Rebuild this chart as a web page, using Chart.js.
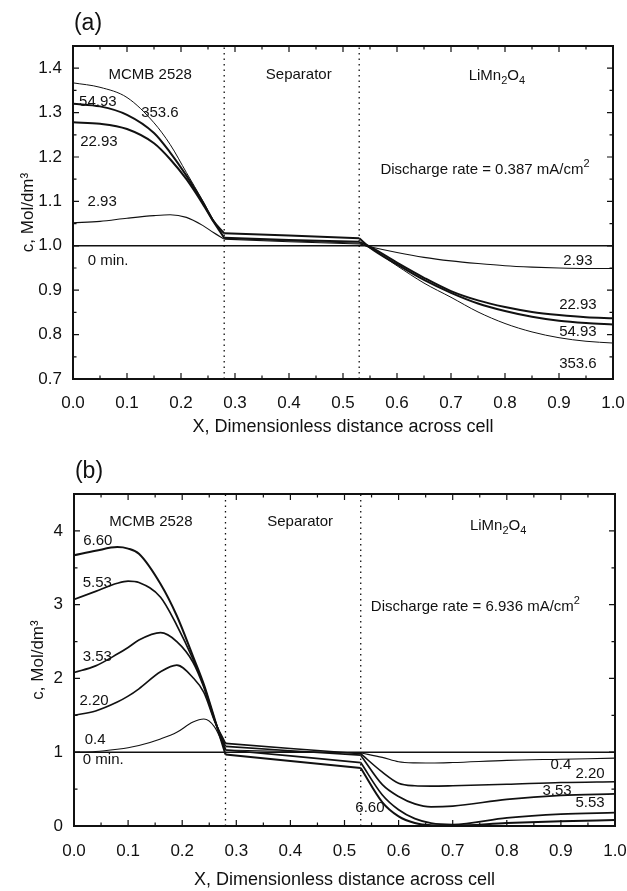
<!DOCTYPE html>
<html>
<head>
<meta charset="utf-8">
<script src="https://cdn.jsdelivr.net/npm/chart.js@4.4.1/dist/chart.umd.min.js"></script>
<style>
  html, body { margin: 0; padding: 0; background: #fff; }
  canvas { display: block; }
</style>
</head>
<body>
<canvas id="chartA" width="627" height="445"></canvas>
<canvas id="chartB" width="627" height="446"></canvas>
<script>
const FONT = "'Liberation Sans', Arial, Helvetica, sans-serif";
const INK = '#111';

// electrode / separator interfaces
const interfaces = [0.28, 0.53];

// ---- (a) discharge rate 0.387 mA/cm2 ----
const xA = [0, 0.05, 0.1, 0.15, 0.18, 0.21, 0.24, 0.26, 0.28, 0.4, 0.53, 0.55, 0.6, 0.65, 0.7, 0.75, 0.8, 0.85, 0.9, 0.95, 1.0];
const cA_2_93  = [1.052, 1.055, 1.062, 1.068, 1.070, 1.064, 1.046, 1.030, 1.015, 1.009, 1.004, 0.998, 0.985, 0.974, 0.966, 0.960, 0.955, 0.952, 0.950, 0.949, 0.949];
const cA_22_93 = [1.278, 1.275, 1.263, 1.231, 1.195, 1.150, 1.095, 1.055, 1.018, 1.013, 1.009, 0.998, 0.962, 0.928, 0.898, 0.877, 0.862, 0.851, 0.844, 0.839, 0.837];
const cA_54_93 = [1.320, 1.314, 1.295, 1.254, 1.210, 1.158, 1.099, 1.056, 1.028, 1.023, 1.017, 0.996, 0.958, 0.923, 0.894, 0.870, 0.853, 0.840, 0.831, 0.826, 0.823];
const cA_353_6 = [1.367, 1.357, 1.334, 1.277, 1.228, 1.165, 1.102, 1.058, 1.017, 1.011, 1.006, 0.995, 0.955, 0.916, 0.884, 0.851, 0.825, 0.806, 0.793, 0.785, 0.781];
const xInit = [0, 1];
const cInit = [1.0, 1.0];

const notesA = [
  ['MCMB 2528', 0.143, 1.385, 15],
  ['Separator', 0.418, 1.385, 15],
  ['LiMn_2O_4', 0.785, 1.382, 15],
  ['Discharge rate = 0.387 mA/cm^2', 0.763, 1.171, 15],
  ['54.93', 0.046, 1.324, 15],
  ['353.6', 0.161, 1.300, 15],
  ['22.93', 0.048, 1.234, 15],
  ['2.93', 0.054, 1.098, 15],
  ['0 min.', 0.065, 0.965, 15],
  ['2.93', 0.935, 0.967, 15],
  ['22.93', 0.935, 0.866, 15],
  ['54.93', 0.935, 0.807, 15],
  ['353.6', 0.935, 0.735, 15]
];

// ---- (b) discharge rate 6.936 mA/cm2 ----
const xB = [0, 0.04, 0.08, 0.1, 0.12, 0.16, 0.19, 0.22, 0.24, 0.26, 0.28, 0.4, 0.53, 0.57, 0.6, 0.63, 0.66, 0.7, 0.8, 0.9, 1.0];
const cB_0_4  = [1.00, 1.01, 1.04, 1.06, 1.09, 1.18, 1.27, 1.41, 1.45, 1.34, 1.03, 1.01, 0.99, 0.93, 0.87, 0.855, 0.853, 0.86, 0.89, 0.905, 0.92];
const cB_2_20 = [1.50, 1.56, 1.68, 1.76, 1.86, 2.09, 2.18, 2.01, 1.81, 1.42, 1.12, 1.05, 0.98, 0.73, 0.58, 0.545, 0.54, 0.545, 0.565, 0.59, 0.60];
const cB_3_53 = [2.08, 2.17, 2.33, 2.42, 2.52, 2.62, 2.50, 2.22, 1.88, 1.43, 1.08, 1.02, 0.96, 0.56, 0.40, 0.30, 0.26, 0.27, 0.36, 0.415, 0.435];
const cB_5_53 = [3.07, 3.18, 3.29, 3.32, 3.30, 3.10, 2.72, 2.26, 1.90, 1.44, 1.03, 0.95, 0.86, 0.42, 0.22, 0.10, 0.04, 0.02, 0.11, 0.16, 0.18];
const cB_6_60 = [3.67, 3.73, 3.78, 3.76, 3.69, 3.28, 2.85, 2.30, 1.92, 1.45, 0.97, 0.88, 0.785, 0.32, 0.13, 0.04, 0.01, 0.005, 0.04, 0.065, 0.08];

const notesB = [
  ['MCMB 2528', 0.142, 4.12, 15],
  ['Separator', 0.418, 4.12, 15],
  ['LiMn_2O_4', 0.784, 4.07, 15],
  ['Discharge rate = 6.936 mA/cm^2', 0.742, 2.97, 15],
  ['6.60', 0.044, 3.86, 15],
  ['5.53', 0.043, 3.29, 15],
  ['3.53', 0.043, 2.29, 15],
  ['2.20', 0.037, 1.69, 15],
  ['0.4', 0.039, 1.17, 15],
  ['0 min.', 0.054, 0.90, 15],
  ['0.4', 0.900, 0.83, 15],
  ['2.20', 0.954, 0.71, 15],
  ['3.53', 0.893, 0.48, 15],
  ['5.53', 0.954, 0.31, 15],
  ['6.60', 0.547, 0.245, 15]
];

function pts(xs, ys) {
  return xs.map((x, i) => ({ x: x, y: ys[i] }));
}

function lineSet(data, width, smooth) {
  return {
    data: data,
    borderColor: INK,
    borderWidth: width,
    pointRadius: 0,
    cubicInterpolationMode: smooth ? 'monotone' : 'default',
    tension: 0,
    fill: false
  };
}

// one profile = anode (smooth), separator (straight), cathode (smooth)
function profile(xs, ys, width) {
  const p = pts(xs, ys);
  const i1 = xs.indexOf(interfaces[0]);
  const i2 = xs.indexOf(interfaces[1]);
  return [
    lineSet(p.slice(0, i1 + 1), width, true),
    lineSet(p.slice(i1, i2 + 1), width, false),
    lineSet(p.slice(i2), width, true)
  ];
}

function divider(x, lo, hi) {
  return {
    data: [{ x: x, y: lo }, { x: x, y: hi }],
    borderColor: INK,
    borderWidth: 1.3,
    borderDash: [1.5, 4],
    pointRadius: 0,
    fill: false
  };
}

// text with _x subscripts and ^x superscripts, centred on (x, y)
function drawRich(ctx, text, x, y, size) {
  const segs = [];
  for (let i = 0; i < text.length; i++) {
    const ch = text[i];
    if ((ch === '_' || ch === '^') && i + 1 < text.length) {
      segs.push({ s: text[i + 1], shift: ch === '_' ? 0.32 : -0.42, small: true });
      i++;
    } else if (segs.length && !segs[segs.length - 1].small) {
      segs[segs.length - 1].s += ch;
    } else {
      segs.push({ s: ch, shift: 0, small: false });
    }
  }
  const big = size + 'px ' + FONT;
  const small = Math.round(size * 0.7) + 'px ' + FONT;
  let total = 0;
  segs.forEach(sg => {
    ctx.font = sg.small ? small : big;
    sg.w = ctx.measureText(sg.s).width;
    total += sg.w;
  });
  let cx = x - total / 2;
  ctx.textAlign = 'left';
  ctx.textBaseline = 'middle';
  segs.forEach(sg => {
    ctx.font = sg.small ? small : big;
    ctx.fillText(sg.s, cx, y + sg.shift * size);
    cx += sg.w;
  });
}

function frameAndText(letter, notes, yMin, yMax, yMinor) {
  return {
    id: 'frameAndText',
    afterDatasetsDraw(chart) {
      const { ctx, chartArea: a } = chart;
      const sx = chart.scales.x, sy = chart.scales.y;
      ctx.save();
      ctx.strokeStyle = INK;
      ctx.lineWidth = 2;
      ctx.strokeRect(a.left, a.top, a.right - a.left, a.bottom - a.top);

      // inward ticks on all four sides
      ctx.lineWidth = 1.2;
      ctx.beginPath();
      for (let i = 1; i < 20; i++) {
        const px = sx.getPixelForValue(i * 0.05);
        const len = i % 2 === 0 ? 6 : 3.5;
        ctx.moveTo(px, a.bottom); ctx.lineTo(px, a.bottom - len);
        ctx.moveTo(px, a.top); ctx.lineTo(px, a.top + len);
      }
      const n = Math.round((yMax - yMin) / yMinor);
      for (let i = 1; i < n; i++) {
        const py = sy.getPixelForValue(yMin + i * yMinor);
        const len = i % 2 === 0 ? 6 : 3.5;
        ctx.moveTo(a.left, py); ctx.lineTo(a.left + len, py);
        ctx.moveTo(a.right, py); ctx.lineTo(a.right - len, py);
      }
      ctx.stroke();

      ctx.fillStyle = INK;
      notes.forEach(([t, x, y, size]) => {
        drawRich(ctx, t, sx.getPixelForValue(x), sy.getPixelForValue(y), size);
      });

      ctx.font = '23px ' + FONT;
      ctx.textAlign = 'center';
      ctx.textBaseline = 'middle';
      ctx.fillText(letter, a.left + 15, a.top - 22);
      ctx.restore();
    }
  };
}

function makeChart(id, opts) {
  const ctx = document.getElementById(id).getContext('2d');
  return new Chart(ctx, {
    type: 'line',
    data: { datasets: opts.datasets },
    options: {
      responsive: false,
      animation: false,
      events: [],
      layout: { padding: opts.padding },
      plugins: { legend: { display: false }, tooltip: { enabled: false } },
      scales: {
        x: {
          type: 'linear',
          min: 0,
          max: 1,
          grid: { display: false, drawTicks: false },
          border: { display: false },
          ticks: {
            stepSize: 0.1,
            autoSkip: false,
            maxRotation: 0,
            padding: opts.xTickPad,
            color: INK,
            font: { family: FONT, size: 17 },
            callback: v => v.toFixed(1)
          },
          title: {
            display: true,
            text: 'X, Dimensionless distance across cell',
            color: INK,
            font: { family: FONT, size: 18 },
            padding: { top: 0, bottom: opts.xTitlePad }
          },
          afterFit: s => {
            s.height = opts.xHeight;
            s.paddingLeft = 0;
            s.paddingRight = 0;
          }
        },
        y: {
          type: 'linear',
          min: opts.yMin,
          max: opts.yMax,
          grid: { display: false, drawTicks: false },
          border: { display: false },
          ticks: {
            stepSize: opts.yStep,
            includeBounds: false,
            padding: 11,
            color: INK,
            font: { family: FONT, size: 17 },
            callback: opts.yFmt
          },
          title: {
            display: true,
            text: 'c, Mol/dm³',
            color: INK,
            font: { family: FONT, size: 17 },
            padding: { top: opts.yTitlePad, bottom: 0 }
          },
          afterFit: s => {
            s.width = opts.yWidth;
            s.paddingTop = 0;
            s.paddingBottom = 0;
          }
        }
      }
    },
    plugins: [frameAndText(opts.letter, opts.notes, opts.yMin, opts.yMax, opts.yStep / 2)]
  });
}

makeChart('chartA', {
  letter: '(a)',
  notes: notesA,
  yMin: 0.7, yMax: 1.45, yStep: 0.1,
  yFmt: v => v.toFixed(1),
  padding: { left: 0, right: 14, top: 46, bottom: 0 },
  xHeight: 66, yWidth: 73,
  xTickPad: 14, xTitlePad: 7, yTitlePad: 18,
  datasets: [
    divider(interfaces[0], 0.7, 1.45),
    divider(interfaces[1], 0.7, 1.45),
    lineSet(pts(xInit, cInit), 1.6, false),
    ...profile(xA, cA_2_93, 1.1),
    ...profile(xA, cA_22_93, 2),
    ...profile(xA, cA_54_93, 2),
    ...profile(xA, cA_353_6, 1)
  ]
});

makeChart('chartB', {
  letter: '(b)',
  notes: notesB,
  yMin: 0, yMax: 4.5, yStep: 1,
  yFmt: v => String(Math.round(v)),
  padding: { left: 0, right: 12, top: 49, bottom: 0 },
  xHeight: 65, yWidth: 74,
  xTickPad: 15, xTitlePad: 0, yTitlePad: 28,
  datasets: [
    divider(interfaces[0], 0, 4.5),
    divider(interfaces[1], 0, 4.5),
    lineSet(pts(xInit, cInit), 1.6, false),
    ...profile(xB, cB_0_4, 1.1),
    ...profile(xB, cB_2_20, 1.6),
    ...profile(xB, cB_3_53, 1.7),
    ...profile(xB, cB_5_53, 1.7),
    ...profile(xB, cB_6_60, 2)
  ]
});
</script>
</body>
</html>
